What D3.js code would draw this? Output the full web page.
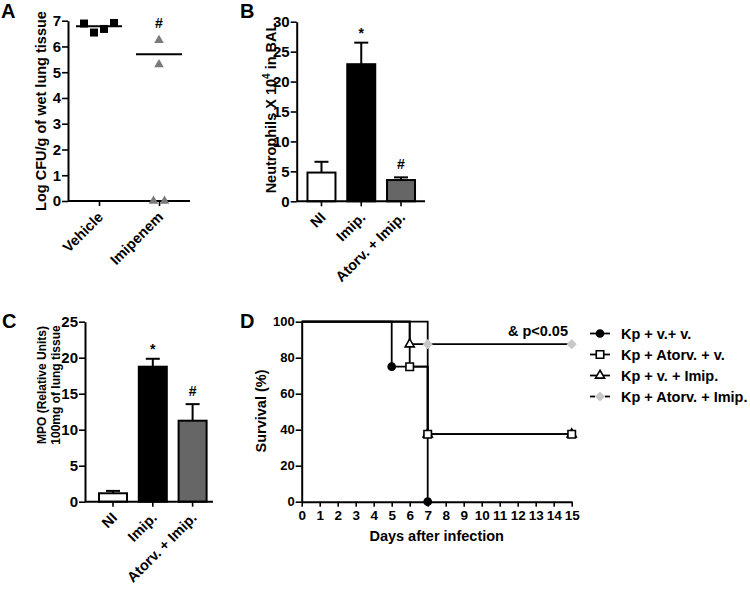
<!DOCTYPE html>
<html><head><meta charset="utf-8">
<script src="https://cdn.jsdelivr.net/npm/d3@7"></script>
<style>
body{margin:0;background:#fff;}
text{font-family:"Liberation Sans",Arial,sans-serif;font-weight:bold;fill:#000;}
</style></head>
<body><svg id="c" width="750" height="589"></svg>
<script>
// ---------- DATA ----------
const catA = ["Vehicle", "Imipenem"];
const vehicleVals = [6.89, 6.54, 6.68, 6.91];
const imipenemVals = [6.24, 5.30, 0, 0];
const lineA = [6.78, 5.70];
const ticksA = [0, 1, 2, 3, 4, 5, 6, 7];
const sigA = ["", "#"];

const catBC = ["NI", "Imip.", "Atorv. + Imip."];
const neutroMean = [4.8, 22.9, 3.55];
const neutroSem = [1.8, 3.6, 0.45];
const ticksB = [0, 5, 10, 15, 20, 25, 30];
const sigB = ["", "*", "#"];

const mpoMean = [1.17, 18.75, 11.25];
const mpoSem = [0.33, 1.1, 2.3];
const ticksC = [0, 5, 10, 15, 20, 25];
const sigC = ["", "*", "#"];

const survNames = ["Kp + v.+ v.", "Kp + Atorv. + v.", "Kp + v. + Imip.", "Kp + Atorv. + Imip."];
const survDays = [[0, 5, 7], [0, 6, 7, 15], [0, 6, 7, 15], [0, 7, 15]];
const survPct = [[100, 75, 0], [100, 75, 37.5, 37.5], [100, 87.5, 37.5, 37.5], [100, 87.5, 87.5]];
const ticksDx = [0,1,2,3,4,5,6,7,8,9,10,11,12,13,14,15];
const ticksDy = [0, 20, 40, 60, 80, 100];
const pText = "& p<0.05";

// ---------- DRAW ----------
const svg = d3.select("#c");
const FS = 14.5;
const fmt = d3.format("d");

function styleAxis(g, fs) {
  g.selectAll("path.domain").attr("stroke", "#000").attr("stroke-width", 2);
  g.selectAll(".tick line").attr("stroke", "#000").attr("stroke-width", 1.6);
  g.selectAll(".tick text").style("font-size", fs + "px").style("font-weight", "bold")
    .style("font-family", '"Liberation Sans",Arial,sans-serif').attr("fill", "#000");
}
function panelLetter(t, x, y) {
  svg.append("text").attr("x", x).attr("y", y).style("font-size", "20px").text(t);
}
function yLabel(lines, x, y, dx, fs) {
  lines.forEach((l, i) => {
    const t = svg.append("text").attr("transform", `translate(${x + i * dx},${y}) rotate(-90)`)
      .attr("text-anchor", "middle").style("font-size", (fs || FS) + "px");
    l.forEach(part => {
      const ts = t.append("tspan").text(part.t);
      if (part.sup) ts.attr("dy", -6).style("font-size", "10px");
      else if (part.after) ts.attr("dy", 6);
    });
  });
}
function rotLabels(g, scale, cats, y) {
  cats.forEach(c => {
    g.append("text").attr("transform", `translate(${scale(c) + 5},${y}) rotate(-45)`)
      .attr("text-anchor", "end").style("font-size", FS + "px").text(c);
  });
}

// Panel A
(function () {
  const y = d3.scaleLinear().domain([0, 7]).range([201, 20.7]);
  const x = d3.scalePoint().domain(catA).range([99, 159]);
  const g = svg.append("g");
  const ya = g.append("g").attr("transform", "translate(68,0)")
    .call(d3.axisLeft(y).tickValues(ticksA).tickFormat(fmt).tickSize(6).tickPadding(1).tickSizeOuter(0));
  styleAxis(ya, 15);
  const xa = g.append("g").attr("transform", "translate(0,201)")
    .call(d3.axisBottom(x).tickSize(5).tickSizeOuter(0).tickFormat(""));
  xa.select("path.domain").attr("d", "M68,0H190");
  styleAxis(xa, 15);
  const groups = [vehicleVals, imipenemVals];
  const shapes = [d3.symbolSquare, d3.symbolTriangle];
  const fills = ["#000", "#7a7a7a"];
  const sizes = [64, 40];
  groups.forEach((vals, gi) => {
    // spread points that overlap vertically (within 0.5 units)
    const order = vals.map((v, i) => i).sort((a, b) => vals[a] - vals[b]);
    const clusters = [];
    order.forEach(i => {
      const last = clusters[clusters.length - 1];
      if (last && Math.abs(vals[i] - vals[last[last.length - 1]]) < 0.5) last.push(i);
      else clusters.push([i]);
    });
    const off = new Array(vals.length).fill(0);
    clusters.forEach(cl => {
      cl.sort((a, b) => a - b);
      cl.forEach((i, k) => off[i] = (k - (cl.length - 1) / 2) * (gi === 0 ? 10 : 11));
    });
    vals.forEach((v, i) => {
      g.append("path").attr("d", d3.symbol().type(shapes[gi]).size(sizes[gi])())
        .attr("transform", `translate(${x(catA[gi]) + off[i]},${y(v)})`).attr("fill", fills[gi]);
    });
    g.append("line").attr("x1", x(catA[gi]) - 23).attr("x2", x(catA[gi]) + 23)
      .attr("y1", y(lineA[gi])).attr("y2", y(lineA[gi])).attr("stroke", "#000").attr("stroke-width", 2);
    if (sigA[gi]) g.append("text").attr("x", x(catA[gi])).attr("y", 28).attr("text-anchor", "middle")
      .style("font-size", "14px").text(sigA[gi]);
  });
  rotLabels(g, x, catA, 218);
  yLabel([[{t: "Log CFU/g of wet lung tissue"}]], 46, 111, 0);
  panelLetter("A", 1, 18);
})();

function barPanel(opts) {
  const y = d3.scaleLinear().domain(opts.domain).range([opts.y0, opts.y1]);
  const x = d3.scaleBand().domain(catBC).range(opts.xr).paddingInner(0.3).paddingOuter(0.15);
  const g = svg.append("g");
  const fills = ["#fff", "#000", "#666"];
  const bw = 28;
  catBC.forEach((c, i) => {
    const cx = x(c) + x.bandwidth() / 2;
    const top = y(opts.mean[i]), et = y(opts.mean[i] + opts.sem[i]);
    g.append("line").attr("x1", cx).attr("x2", cx).attr("y1", top).attr("y2", et)
      .attr("stroke", "#000").attr("stroke-width", 2);
    g.append("line").attr("x1", cx - 7).attr("x2", cx + 7).attr("y1", et).attr("y2", et)
      .attr("stroke", "#000").attr("stroke-width", 2);
    g.append("rect").attr("x", cx - bw / 2).attr("width", bw).attr("y", top)
      .attr("height", opts.y0 - top).attr("fill", fills[i]).attr("stroke", "#000").attr("stroke-width", 2);
    if (opts.sig[i]) g.append("text").attr("x", cx).attr("text-anchor", "middle")
      .attr("y", et - (opts.sig[i] === "*" ? 5 : 8)).style("font-size", "14px").text(opts.sig[i]);
  });
  const ya = g.append("g").attr("transform", `translate(${opts.ax},0)`)
    .call(d3.axisLeft(y).tickValues(opts.ticks).tickFormat(fmt).tickSize(6).tickPadding(1).tickSizeOuter(0));
  styleAxis(ya, 15);
  const xa = g.append("g").attr("transform", `translate(0,${opts.y0})`)
    .call(d3.axisBottom(x).tickSize(5).tickSizeOuter(0).tickFormat(""));
  xa.select("path.domain").attr("d", `M${opts.ax},0H${opts.xend}`);
  styleAxis(xa, 15);
  rotLabels(g, c => x(c) + x.bandwidth() / 2, catBC, opts.y0 + 17);
}

// Panel B
barPanel({domain: [0, 30], y0: 201.3, y1: 21.7, xr: [301.6, 420.9], ax: 296.7, xend: 425,
  mean: neutroMean, sem: neutroSem, ticks: ticksB, sig: sigB});
yLabel([[{t: "Neutrophils X 10"}, {t: "4", sup: true}, {t: " in BAL", after: true}]], 276, 108, 0);
panelLetter("B", 240, 18);

// Panel C
barPanel({domain: [0, 25], y0: 501.7, y1: 321.7, xr: [93.1, 212.5], ax: 85, xend: 213,
  mean: mpoMean, sem: mpoSem, ticks: ticksC, sig: sigC});
yLabel([[{t: "MPO (Relative Units)"}], [{t: "100mg of lung tissue"}]], 46, 385, 13.5, 12);
panelLetter("C", 2, 328);

// Panel D
(function () {
  const x = d3.scaleLinear().domain([0, 15]).range([301.7, 571.7]);
  const y = d3.scaleLinear().domain([0, 100]).range([501.7, 321.7]);
  const g = svg.append("g");
  const ya = g.append("g").attr("transform", "translate(301.7,0)")
    .call(d3.axisLeft(y).tickValues(ticksDy).tickFormat(fmt).tickSize(6).tickPadding(1).tickSizeOuter(0));
  styleAxis(ya, 13);
  const xa = g.append("g").attr("transform", "translate(0,501.7)")
    .call(d3.axisBottom(x).tickValues(ticksDx).tickFormat(fmt).tickSize(5).tickPadding(4).tickSizeOuter(0));
  styleAxis(xa, 13.5);
  const line = d3.line().curve(d3.curveStepAfter).x(d => x(d[0])).y(d => y(d[1]));
  survDays.forEach((days, s) => {
    const pts = days.map((d, i) => [d, survPct[s][i]]);
    g.append("path").attr("d", line(pts)).attr("fill", "none").attr("stroke", "#000").attr("stroke-width", 1.8);
  });
  const shapes = [d3.symbolCircle, d3.symbolSquare, d3.symbolTriangle, d3.symbolSquare];
  const sizes = [40, 56, 36, 52];
  const rots = [0, 0, 0, 45];
  const fillsD = ["#000", "#fff", "#fff", "#c8c8c8"];
  const strokesD = ["#000", "#000", "#000", "none"];
  function marker(s, px, py) {
    g.append("path").attr("d", d3.symbol().type(shapes[s]).size(sizes[s])())
      .attr("transform", `translate(${px},${py}) rotate(${rots[s]})`).attr("fill", fillsD[s])
      .attr("stroke", strokesD[s]).attr("stroke-width", 1.6);
  }
  [2, 1, 0, 3].forEach(s => {
    survDays[s].forEach((d, i) => { if (i > 0) marker(s, x(d), y(survPct[s][i])); });
  });
  g.append("text").attr("x", 568).attr("y", 336).attr("text-anchor", "end").style("font-size", FS + "px").text(pText);
  g.append("text").attr("x", x(7.5)).attr("y", 541).attr("text-anchor", "middle").style("font-size", FS + "px").text("Days after infection");
  // legend
  survNames.forEach((n, s) => {
    const cy = 333.5 + s * 21;
    if (s === 3) {
      g.append("line").attr("x1", 590).attr("x2", 595).attr("y1", cy).attr("y2", cy).attr("stroke", "#000").attr("stroke-width", 1.8);
      g.append("line").attr("x1", 605).attr("x2", 610).attr("y1", cy).attr("y2", cy).attr("stroke", "#000").attr("stroke-width", 1.8);
    } else {
      g.append("line").attr("x1", 590).attr("x2", 610).attr("y1", cy).attr("y2", cy).attr("stroke", "#000").attr("stroke-width", 1.8);
    }
    marker(s, 600, cy);
    g.append("text").attr("x", 621).attr("y", cy + 5).style("font-size", FS + "px").text(n);
  });
  yLabel([[{t: "Survival (%)"}]], 266, 411, 0);
  panelLetter("D", 240, 328);
})();
</script></body></html>
